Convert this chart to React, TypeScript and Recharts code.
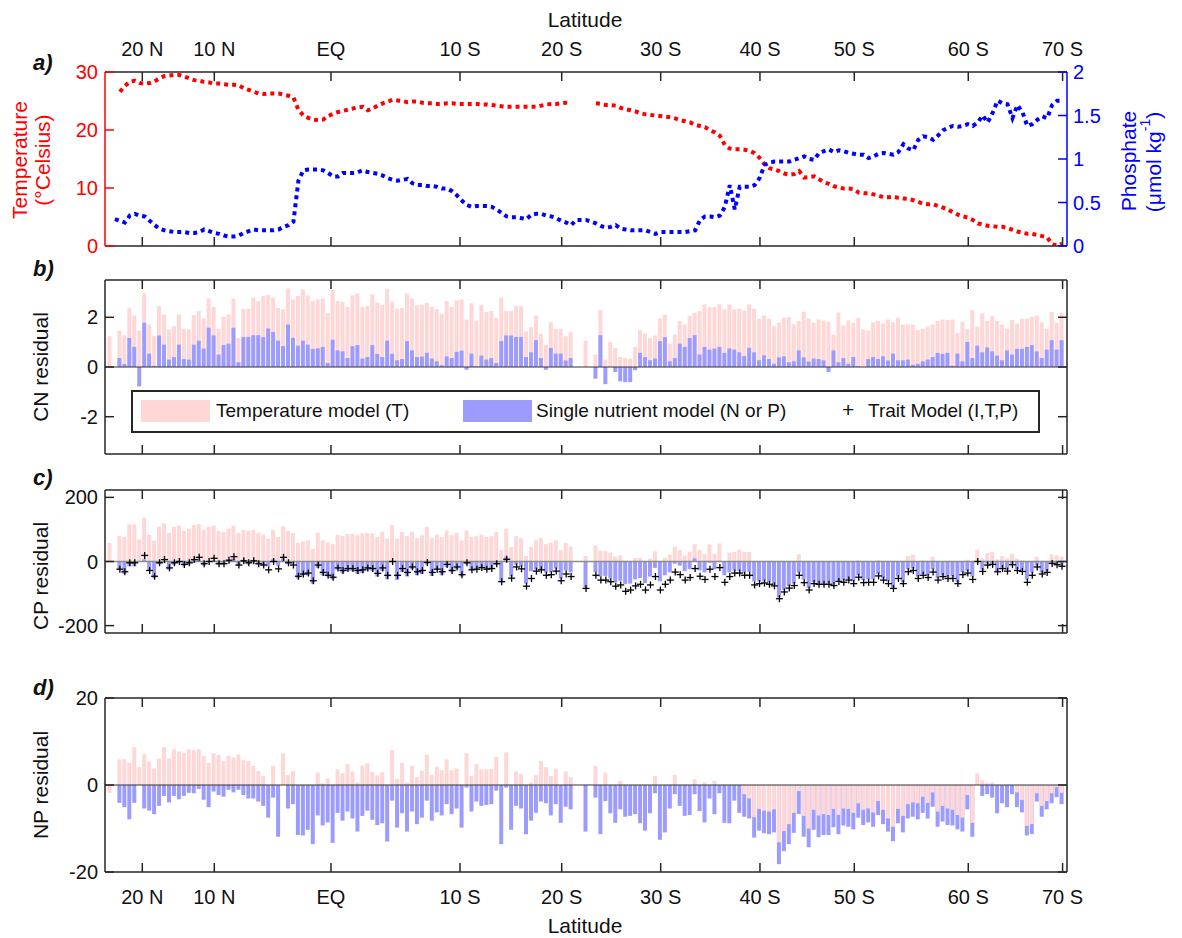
import React from 'react';
import { ComposedChart, Line, Bar, Scatter, XAxis, YAxis, ReferenceLine, Legend } from 'recharts';

const FONT = '"Liberation Sans", Arial, Helvetica, sans-serif';
const AXIS = '#262626';
const PINK = '#ffd7d7';
const BLUE = '#9c9cff';
const RED = '#ff0000';
const DEEP_BLUE = '#0000ff';

// x positions (station index) of the latitude ticks
const latTicks = [6.52, 21.04, 44.57, 70.59, 91.1, 111.06, 131.08, 150.1, 173.09, 192.11];
const latLabels = ['20 N', '10 N', 'EQ', '10 S', '20 S', '30 S', '40 S', '50 S', '60 S', '70 S'];

// panel a
const temperature = [
  null, null, 26.6, 27.6, 28.3, 28.5, 28.1, 28.0, 28.1, 28.4,
  28.9, 29.3, 29.4, 29.5, 29.5, 29.2, 28.9, 28.6, 28.5, 28.3,
  28.2, 28.0, 28.0, 27.9, 27.8, 27.8, 27.7, 27.2, 26.9, 26.6,
  26.3, 26.2, 26.3, 26.3, 26.3, 26.1, 25.9, 25.6, 23.5, 22.5,
  22.1, 21.8, 21.7, 21.8, 22.4, 22.8, 23.1, 23.3, 23.5, 23.7,
  23.9, 24.0, 23.4, 23.7, 24.2, 24.6, 24.9, 25.2, 25.1, 25.0,
  24.8, 24.9, 24.9, 24.7, 24.6, 24.6, 24.5, 24.5, 24.6, 24.6,
  24.5, 24.5, 24.5, 24.5, 24.5, 24.4, 24.4, 24.3, 24.2, 24.1,
  24.0, 24.0, 24.0, 24.0, 24.0, 24.0, 24.0, 24.2, 24.4, 24.5,
  24.5, 24.6, 24.7, 24.7, null, null, null, null, 24.6, 24.5,
  24.3, 24.3, 24.2, 23.8, 23.6, 23.4, 23.2, 22.9, 22.7, 22.6,
  22.5, 22.4, 22.3, 22.2, 22.0, 21.7, 21.5, 21.3, 20.9, 20.7,
  20.5, 19.9, 19.6, 19.0, 17.4, 16.8, 16.7, 16.7, 16.6, 16.4,
  16.0, 15.2, 14.1, 13.4, 13.2, 12.9, 12.5, 12.3, 12.4, 12.9,
  11.8, 11.9, 12.0, 11.5, 11.0, 10.7, 10.3, 10.1, 9.9, 9.9,
  9.8, 9.2, 9.1, 9.1, 8.9, 8.7, 8.4, 8.4, 8.5, 8.3,
  8.2, 8.1, 7.9, 7.6, 7.3, 7.2, 7.2, 6.9, 6.6, 6.3,
  5.8, 5.4, 5.1, 4.9, 4.5, 3.9, 3.7, 3.5, 3.4, 3.3,
  3.3, 3.1, 2.8, 2.5, 2.3, 2.1, 2.1, 1.9, 1.7, 1.5,
  0.3, 0.1, 0.4,
];

const phosphate = [
  null, 0.31, 0.29, 0.27, 0.35, 0.37, 0.35, 0.34, 0.29, 0.24,
  0.20, 0.18, 0.17, 0.16, 0.16, 0.16, 0.15, 0.15, 0.16, 0.19,
  0.17, 0.15, 0.14, 0.12, 0.11, 0.11, 0.12, 0.15, 0.17, 0.19,
  0.18, 0.18, 0.18, 0.18, 0.19, 0.22, 0.24, 0.28, 0.75, 0.87,
  0.88, 0.88, 0.88, 0.87, 0.84, 0.80, 0.80, 0.84, 0.84, 0.84,
  0.85, 0.87, 0.85, 0.84, 0.83, 0.81, 0.78, 0.76, 0.75, 0.76,
  0.77, 0.72, 0.70, 0.70, 0.69, 0.69, 0.68, 0.66, 0.66, 0.63,
  0.58, 0.52, 0.47, 0.45, 0.46, 0.46, 0.46, 0.45, 0.42, 0.38,
  0.34, 0.33, 0.33, 0.32, 0.31, 0.36, 0.37, 0.37, 0.35, 0.34,
  0.32, 0.29, 0.27, 0.24, 0.30, 0.30, 0.30, 0.28, 0.26, 0.23,
  0.21, 0.22, 0.24, 0.20, 0.19, 0.18, 0.18, 0.18, 0.18, 0.16,
  0.14, 0.16, 0.16, 0.16, 0.16, 0.16, 0.16, 0.17, 0.18, 0.30,
  0.34, 0.34, 0.33, 0.35, 0.45, 0.70, 0.42, 0.68, 0.68, 0.68,
  0.70, 0.78, 0.93, 0.96, 0.97, 0.97, 0.97, 0.97, 0.99, 1.01,
  1.03, 1.00, 0.99, 1.07, 1.09, 1.11, 1.08, 1.10, 1.09, 1.07,
  1.06, 1.05, 1.05, 1.01, 1.03, 1.06, 1.07, 1.06, 1.05, 1.08,
  1.17, 1.12, 1.10, 1.22, 1.26, 1.25, 1.22, 1.27, 1.33, 1.36,
  1.38, 1.37, 1.38, 1.40, 1.38, 1.42, 1.50, 1.42, 1.53, 1.67,
  1.64, 1.63, 1.47, 1.62, 1.54, 1.38, 1.40, 1.45, 1.49, 1.47,
  1.62, 1.67, 1.67,
];

// panel b: CN residuals
const cnTemp = [
  1.24, null, 1.47, 1.28, 2.36, 2.07, 1.47, 2.96, 1.71, 1.24,
  2.45, 2.11, 1.51, 1.64, 2.11, 1.54, 1.51, 2.09, 2.25, 1.95,
  2.76, 2.42, 1.54, 2.02, 2.11, 2.75, 1.17, 2.34, 2.34, 2.79,
  2.65, 2.86, 2.90, 2.79, 2.38, 2.32, 3.16, 2.72, 2.86, 3.12,
  2.88, 2.65, 2.72, 2.75, 2.18, 3.10, 2.65, 2.63, 2.42, 2.88,
  2.96, 2.41, 2.45, 2.92, 2.59, 2.49, 3.15, 2.63, 2.34, 2.38,
  2.96, 2.75, 2.49, 2.50, 2.58, 2.42, 2.32, 2.14, 2.65, 2.42,
  2.69, 2.72, 1.91, 2.56, 1.87, 2.49, 2.21, 2.25, 1.98, 2.79,
  2.25, 2.25, 2.45, 2.45, 1.44, 1.60, 2.07, 1.33, 0.90, 1.80,
  1.54, 1.54, 1.24, 1.40, null, null, 1.06, null, 0.50, 2.29,
  0.30, 1.01, 0.77, 0.40, 0.36, 0.34, 0.81, 1.48, 1.35, 1.17,
  1.27, 1.95, 2.11, 0.94, 1.31, 1.85, 1.71, 2.05, 2.18, 2.25,
  2.52, 2.41, 2.41, 2.52, 2.32, 2.52, 2.32, 2.35, 2.27, 2.52,
  2.34, 1.94, 2.07, 1.94, 1.64, 1.78, 1.98, 2.01, 1.71, 1.85,
  2.22, 1.95, 1.78, 1.91, 1.87, 1.82, 1.31, 2.18, 1.67, 1.87,
  1.78, 1.98, 1.51, 1.47, 1.80, 1.85, 1.75, 1.91, 1.80, 1.98,
  1.71, 1.71, 1.71, 1.48, 1.54, 1.62, 1.71, 1.85, 1.91, 1.89,
  1.91, 1.37, 1.82, 1.54, 2.29, 1.62, 2.15, 1.85, 2.05, 1.85,
  1.71, 1.54, 1.89, 1.75, 1.94, 1.94, 2.02, 2.07, 1.80, 1.54,
  2.21, 1.78, 2.18,
];

const cnNutrient = [
  0, null, 0.36, 0.12, 1.17, 0.81, -0.78, 1.78, 0.54, 0.05,
  1.27, 0.90, 0.30, 0.40, 0.90, 0.32, 0.30, 0.90, 1.06, 0.74,
  1.58, 1.27, 0.50, 0.88, 0.94, 1.58, 0.19, 1.21, 1.21, 1.28,
  1.28, 1.20, 1.55, 1.41, 1.06, 0.84, 1.71, 1.17, 0.86, 1.06,
  0.90, 0.73, 0.75, 0.81, 0.16, 1.10, 0.67, 0.63, 0.36, 0.84,
  0.88, 0.34, 0.40, 0.88, 0.53, 0.40, 1.06, 0.53, 0.27, 0.32,
  1.04, 0.67, 0.40, 0.42, 0.57, 0.34, 0.23, 0.07, 0.43, 0.36,
  0.61, 0.66, -0.11, 0.54, 0.03, 0.46, 0.30, 0.36, 0.16, 1.04,
  1.27, 1.27, 1.21, 1.21, 0.40, 0.59, 1.08, 0.36, -0.11, 0.77,
  0.54, 0.54, 0.26, 0.36, null, null, 0, null, -0.47, 1.28,
  -0.69, 0, -0.20, -0.58, -0.61, -0.61, -0.13, 0.57, 0.40, 0.27,
  0.34, 1.04, 1.20, 0.23, 0.36, 0.94, 0.81, 1.17, 1.28, 0.50,
  0.81, 0.70, 0.74, 0.81, 0.57, 0.75, 0.70, 0.59, 0.44, 0.77,
  0.59, 0.27, 0.47, 0.32, 0.13, 0.39, 0.43, 0.19, 0.23, 0.67,
  0.39, 0.22, 0.34, 0.32, 0.27, -0.20, 0.67, 0.19, 0.36, 0.13,
  0.40, 0.03, 0, 0.32, 0.40, 0.32, 0.43, 0.26, 0.54, 0.27,
  0.27, 0.30, 0.09, 0.13, 0.23, 0.30, 0.40, 0.57, 0.53, 0.57,
  0.05, 0.54, 0.23, 1.01, 0.36, 0.86, 0.59, 0.79, 0.63, 0.46,
  0.27, 0.67, 0.50, 0.73, 0.73, 0.81, 0.88, 0.63, 0.36, 0.70,
  1.08, 0.70, 1.08,
];

// panel c: CP residuals
const cpTemp = [
  58, null, 80, 77, 116, 116, 69, 136, 83, 65,
  108, 119, 89, 108, 112, 96, 102, 114, 116, 99,
  108, 112, 95, 93, 103, 112, 89, 99, 96, 99,
  89, 84, 71, 99, 76, 110, 95, 89, 58, 63,
  66, 40, 89, 66, 60, 54, 83, 80, 86, 86,
  82, 88, 89, 88, 77, 93, 71, 114, 71, 92,
  79, 93, 73, 82, 108, 73, 84, 76, 97, 82,
  89, 65, 97, 77, 79, 84, 77, 79, 92, 36,
  102, 45, 79, 73, 17, 45, 66, 73, 54, 59,
  66, 36, 58, 47, null, null, 17, null, 50, 34,
  33, 28, 15, 19, 2, 0, 11, 11, 0, 9,
  32, 0, 11, 22, 47, 36, 19, 30, 54, 36,
  23, 53, 24, 56, 0, 28, 30, 37, 30, 30,
  0, 0, 0, 0, 0, 0, 0, 0, 0, 23,
  0, 0, 0, 0, 0, 0, 0, 0, 0, 0,
  0, 3, 0, 0, 0, 4, 0, 0, 0, 0,
  0, 17, 22, 0, 4, 0, 15, 0, 0, 0,
  0, 0, 0, 6, 0, 36, 9, 26, 30, 7,
  17, 10, 24, 9, 4, 0, 0, 15, 0, 0,
  22, 19, 15,
];

const cpNutrient = [
  0, null, -26, -39, -15, -15, 0, 7, -28, -52,
  -9, -2, -26, -10, -4, -15, -10, 4, 7, -13,
  0, 4, -9, -7, 4, 9, -13, 6, -9, 3,
  -9, -13, -15, 7, -13, 10, -7, -7, -53, -43,
  -43, -69, -20, -43, -47, -56, -26, -37, -30, -30,
  -39, -36, -28, -30, -47, -30, -56, -2, -58, -33,
  -47, -24, -43, -39, -9, -45, -24, -43, -17, -34,
  -24, -47, -9, -24, -24, -19, -24, -22, -9, -62,
  15, -47, -10, -15, -69, -30, -24, -24, -34, -34,
  -22, -53, -28, -34, null, null, -82, null, -33, -47,
  -45, -53, -65, -60, -70, -69, -56, -52, -67, -47,
  -20, -62, -43, -34, -7, -13, -30, -24, 10, -28,
  -34, -4, -24, 2, -43, -34, -28, -30, -34, -33,
  -62, -62, -62, -65, -73, -112, -88, -77, -69, -34,
  -56, -82, -65, -67, -67, -67, -69, -60, -58, -56,
  -62, -43, -58, -56, -56, -39, -53, -62, -82, -47,
  -65, -24, -22, -47, -39, -43, -24, -52, -43, -47,
  -47, -65, -34, -30, -47, 0, -26, -7, -7, -30,
  -19, -26, -7, -24, -26, -56, -34, -13, -34, -30,
  -4, -9, -13,
];

const cpTrait = [
  null, null, -24, -32, -4, -4, null, 19, -28, -46,
  -4, 6, -20, -4, 0, -9, -4, 6, 13, -7,
  0, 10, -7, -7, 4, 15, -11, 2, -4, 2,
  -7, -11, -26, 0, -23, 13, -4, -11, -46, -39,
  -36, -60, -11, -34, -43, -49, -20, -28, -22, -22,
  -28, -26, -20, -22, -37, -20, -43, 0, -43, -22,
  -34, -17, -32, -28, -3, -34, -24, -32, -9, -28,
  -17, -41, -4, -26, -24, -19, -24, -22, -7, -63,
  7, -52, -17, -23, -77, -53, -30, -26, -43, -41,
  -30, -60, -39, -47, null, null, -84, null, -43, -58,
  -58, -63, -77, -73, -93, -89, -76, -71, -89, -73,
  -47, -89, -71, -58, -33, -41, -58, -50, -22, -46,
  -56, -24, -47, -19, -65, -47, -36, -36, -43, -43,
  -73, -69, -67, -71, -76, -116, -95, -83, -75, -43,
  -66, -89, -69, -71, -71, -71, -75, -62, -65, -58,
  -69, -49, -66, -65, -65, -45, -58, -69, -84, -53,
  -69, -32, -28, -53, -43, -50, -33, -58, -47, -53,
  -53, -69, -41, -36, -56, 0, -31, -11, -9, -32,
  -22, -30, -10, -28, -31, -65, -43, -17, -39, -34,
  -6, -10, -15,
];

// panel d: NP residuals
const npTemp = [
  -1.8, null, 5.9, 5.9, 5.1, 8.7, 4.1, 7.1, 5.4, 3.8,
  6.1, 8.7, 6.1, 8.2, 7.7, 7.3, 8.2, 8.0, 8.2, 6.7,
  5.1, 7.3, 6.9, 5.5, 6.7, 6.3, 7.0, 5.7, 5.5, 4.4,
  3.2, 2.1, 0, 4.4, 0, 7.3, 2.3, 3.2, 0, 0,
  0, 0, 2.9, 0.4, 1.5, 0, 3.6, 2.7, 4.8, 3.1,
  0.6, 4.5, 5.0, 3.0, 2.2, 2.9, 0, 8.0, 1.4, 5.1,
  0.6, 4.4, 1.8, 3.3, 6.9, 2.3, 4.2, 3.4, 5.9, 3.4,
  3.8, 0, 7.3, 2.1, 4.8, 3.6, 3.6, 3.7, 6.5, 0,
  7.5, 0, 3.1, 2.5, 0, 0.6, 2.3, 5.5, 4.1, 2.1,
  3.8, 0, 3.1, 1.8, null, null, 0, null, 4.4, 0,
  2.9, 0, 0, 0.9, 0, 0, 0, 0, 0, 0,
  2.1, 0, 0, 0, 2.3, 0, 0, 0, 1.3, 0,
  0.6, 0, 1.0, 0, 0, 0, 0, 0, -2.1, -3.1,
  -7.4, -5.5, -5.9, -6.1, -5.6, -13.2, -10.6, -9.0, -6.4, -1.4,
  -7.1, -10.0, -5.7, -7.0, -6.7, -6.9, -5.5, -6.9, -5.4, -5.5,
  -6.4, -4.2, -5.7, -5.4, -6.3, -3.7, -5.7, -7.7, -9.6, -5.5,
  -7.1, -4.4, -4.0, -4.2, -2.7, -4.1, -1.7, -6.1, -4.8, -5.4,
  -5.7, -6.9, -7.5, -2.3, -8.7, 2.7, 1.1, 0.5, 0.6, 0,
  0, 0, 0, -1.7, -3.4, -9.4, -9.0, -1.9, -4.8, -3.7,
  -1.9, -0.5, -1.8,
];

const npNutrient = [
  0, null, -4.1, -5.1, -7.9, -4.1, 0, -5.4, -5.9, -6.7,
  -4.8, -2.5, -4.0, -2.5, -3.3, -2.5, -1.8, -1.9, -0.9, -3.4,
  -5.1, -1.5, -2.3, -2.7, -1.1, -1.7, -1.1, -2.3, -3.1, -3.1,
  -3.8, -4.8, -7.5, -2.9, -11.9, 0, -5.4, -4.4, -11.5, -11.6,
  -10.3, -13.6, -7.0, -9.3, -8.6, -13.3, -6.4, -8.2, -6.1, -7.7,
  -10.7, -7.1, -5.9, -8.0, -9.2, -8.8, -13.0, -3.6, -9.8, -6.5,
  -10.7, -6.1, -9.0, -7.5, -3.6, -8.2, -6.3, -7.0, -4.4, -6.7,
  -5.4, -9.8, -0.6, -6.1, -3.8, -4.8, -4.6, -4.4, -1.3, -13.6,
  -0.6, -10.3, -4.8, -5.4, -11.3, -8.2, -6.4, -3.8, -4.2, -7.0,
  -4.4, -8.7, -5.0, -5.6, null, null, -10.7, null, -2.9, -11.3,
  -3.7, -6.5, -8.7, -5.6, -7.3, -7.1, -6.7, -8.8, -10.5, -6.5,
  -1.9, -12.6, -10.9, -5.4, -2.1, -4.8, -7.1, -6.9, -2.1, -6.0,
  -8.6, -3.1, -6.7, -1.9, -8.7, -8.8, -3.6, -6.4, -7.3, -7.7,
  -12.1, -10.5, -11.1, -11.3, -10.9, -18.2, -15.2, -13.6, -11.0, -6.7,
  -11.9, -14.3, -10.3, -12.0, -11.5, -11.5, -9.7, -11.3, -9.3, -9.6,
  -10.2, -7.5, -9.2, -8.6, -9.6, -6.9, -9.0, -10.7, -12.9, -8.8,
  -10.9, -7.7, -7.3, -7.9, -6.4, -7.7, -5.0, -9.6, -8.4, -9.2,
  -9.3, -10.2, -10.7, -5.6, -11.9, 0, -2.5, -2.1, -2.9, -6.5,
  -4.2, -5.1, -2.1, -5.1, -6.3, -11.6, -11.3, -3.8, -7.3, -5.6,
  -4.2, -2.8, -4.4,
];

const rows = temperature.map((t, i) => ({
  i,
  temp: t,
  phos: phosphate[i],
  cnT: cnTemp[i],
  cnN: cnNutrient[i],
  cpT: cpTemp[i],
  cpN: cpNutrient[i],
  cpX: cpTrait[i],
  npT: npTemp[i],
  npN: npNutrient[i],
}));
const traitRows = rows.filter((r) => r.cpX !== null);

const W = 1182;
const PLOT_L = 105;
const PLOT_R = 1067;
const TL = 9;
const X_DOMAIN: [number, number] = [-1, 193];

const xTick = (side: 'top' | 'bottom', labels: boolean) => (p: any) => {
  const { x, y, index } = p;
  const dir = side === 'top' ? 1 : -1;
  return (
    <g>
      <line x1={x} y1={y} x2={x} y2={y + dir * TL} stroke={AXIS} strokeWidth={1.5} />
      {labels && (
        <text x={x} y={side === 'top' ? y - 16 : y + 32} textAnchor="middle" fontSize={20} fill="#111" fontFamily={FONT}>
          {latLabels[index]}
        </text>
      )}
    </g>
  );
};

const yTick = (side: 'left' | 'right', color: string, labels: boolean, textColor?: string) => (p: any) => {
  const { x, y, payload } = p;
  const dir = side === 'left' ? 1 : -1;
  return (
    <g>
      <line x1={x} y1={y} x2={x + dir * TL} y2={y} stroke={color} strokeWidth={1.5} />
      {labels && (
        <text
          x={side === 'left' ? x - 7 : x + 6}
          y={y}
          dy={7}
          textAnchor={side === 'left' ? 'end' : 'start'}
          fontSize={20}
          fill={textColor || color}
          fontFamily={FONT}
        >
          {payload.value}
        </text>
      )}
    </g>
  );
};

const plus = (p: any) => {
  const { cx, cy } = p;
  if (cx == null || cy == null || isNaN(cx) || isNaN(cy)) return <g />;
  return (
    <g>
      <line x1={cx - 3.5} y1={cy} x2={cx + 3.5} y2={cy} stroke="#000" strokeWidth={1.3} />
      <line x1={cx} y1={cy - 3.5} x2={cx} y2={cy + 3.5} stroke="#000" strokeWidth={1.3} />
    </g>
  );
};

// axes have a 1px box (recharts skips axes of zero size); margins compensate
const xAxes = (topLabels: boolean, bottomLabels: boolean) => [
  <XAxis
    key="xb"
    xAxisId="b"
    dataKey="i"
    type="number"
    domain={X_DOMAIN}
    allowDataOverflow
    ticks={latTicks}
    interval={0}
    height={1}
    tickSize={0}
    tickMargin={0}
    tickLine={false}
    axisLine={{ stroke: AXIS, strokeWidth: 1.5 }}
    tick={xTick('bottom', bottomLabels)}
  />,
  <XAxis
    key="xt"
    xAxisId="t"
    orientation="top"
    dataKey="i"
    type="number"
    domain={X_DOMAIN}
    allowDataOverflow
    ticks={latTicks}
    interval={0}
    height={1}
    tickSize={0}
    tickMargin={0}
    tickLine={false}
    axisLine={{ stroke: AXIS, strokeWidth: 1.5 }}
    tick={xTick('top', topLabels)}
  />,
];

const yAxes = (domain: [number, number], ticks: number[]) => [
  <YAxis
    key="yl"
    yAxisId="l"
    type="number"
    domain={domain}
    allowDataOverflow
    ticks={ticks}
    interval={0}
    width={1}
    tickSize={0}
    tickMargin={0}
    tickLine={false}
    axisLine={{ stroke: AXIS, strokeWidth: 1.5 }}
    tick={yTick('left', AXIS, true, '#111')}
  />,
  <YAxis
    key="yr"
    yAxisId="r"
    orientation="right"
    type="number"
    domain={domain}
    allowDataOverflow
    ticks={ticks}
    interval={0}
    width={1}
    tickSize={0}
    tickMargin={0}
    tickLine={false}
    axisLine={{ stroke: AXIS, strokeWidth: 1.5 }}
    tick={yTick('right', AXIS, false)}
  />,
];

const LegendBox = () => (
  <div
    style={{
      boxSizing: 'border-box',
      width: 909,
      height: 43,
      border: '2px solid #262626',
      background: '#fff',
      position: 'relative',
      fontFamily: FONT,
      fontSize: 19,
      color: '#111',
    }}
  >
    <div style={{ position: 'absolute', left: 8, top: 8, width: 69, height: 22, background: PINK }} />
    <div style={{ position: 'absolute', left: 83, top: 8, lineHeight: '22px' }}>Temperature model (T)</div>
    <div style={{ position: 'absolute', left: 330, top: 8, width: 69, height: 22, background: BLUE }} />
    <div style={{ position: 'absolute', left: 403, top: 8, lineHeight: '22px' }}>Single nutrient model (N or P)</div>
    <div style={{ position: 'absolute', left: 709, top: 7, lineHeight: '22px', fontSize: 21 }}>+</div>
    <div style={{ position: 'absolute', left: 735, top: 8, lineHeight: '22px' }}>Trait Model (I,T,P)</div>
  </div>
);

// plot area spans top..(chart height - bottom); axis boxes take 1px each side
const margin = (top: number, bottom: number) => ({ top: top - 1, bottom: bottom - 1, left: PLOT_L - 1, right: W - PLOT_R - 1 });

export default function App() {
  return (
    <div style={{ position: 'absolute', left: 0, top: 0, width: W, height: 938, background: '#fff', fontFamily: FONT }}>
      {/* a) temperature and phosphate */}
      <div style={{ position: 'absolute', left: 0, top: 0 }}>
        <ComposedChart width={W} height={262} data={rows} margin={margin(72, 16)}>
          {xAxes(true, false)}
          <YAxis
            yAxisId="temp"
            type="number"
            domain={[0, 30]}
            allowDataOverflow
            ticks={[0, 10, 20, 30]}
            interval={0}
            width={1}
            tickSize={0}
            tickMargin={0}
            tickLine={false}
            axisLine={{ stroke: RED, strokeWidth: 1.5 }}
            tick={yTick('left', RED, true)}
          />
          <YAxis
            yAxisId="phos"
            orientation="right"
            type="number"
            domain={[0, 2]}
            allowDataOverflow
            ticks={[0, 0.5, 1, 1.5, 2]}
            interval={0}
            width={1}
            tickSize={0}
            tickMargin={0}
            tickLine={false}
            axisLine={{ stroke: DEEP_BLUE, strokeWidth: 1.5 }}
            tick={yTick('right', DEEP_BLUE, true)}
          />
          <Line
            xAxisId="b"
            yAxisId="temp"
            type="linear"
            dataKey="temp"
            stroke={RED}
            strokeWidth={4}
            strokeDasharray="4 4"
            dot={false}
            isAnimationActive={false}
          />
          <Line
            xAxisId="b"
            yAxisId="phos"
            type="linear"
            dataKey="phos"
            stroke={DEEP_BLUE}
            strokeWidth={4}
            strokeDasharray="4 4"
            dot={false}
            isAnimationActive={false}
          />
        </ComposedChart>
      </div>

      {/* b) CN residual */}
      <div style={{ position: 'absolute', left: 0, top: 262 }}>
        <ComposedChart width={W} height={208} data={rows} margin={margin(18, 16)} barGap={-4}>
          {xAxes(false, false)}
          {yAxes([-3.5, 3.5], [-2, 0, 2])}
          <ReferenceLine xAxisId="b" yAxisId="l" y={0} stroke="#333" strokeWidth={1} />
          <Bar xAxisId="b" yAxisId="l" dataKey="cnT" fill={PINK} barSize={4} isAnimationActive={false} />
          <Bar xAxisId="b" yAxisId="l" dataKey="cnN" fill={BLUE} barSize={4} isAnimationActive={false} />
          <Legend
            layout="horizontal"
            verticalAlign="middle"
            align="center"
            wrapperStyle={{ left: 131, top: 128, width: 909, height: 43 }}
            content={() => <LegendBox />}
          />
        </ComposedChart>
      </div>

      {/* c) CP residual */}
      <div style={{ position: 'absolute', left: 0, top: 470 }}>
        <ComposedChart width={W} height={210} data={rows} margin={margin(20, 47)} barGap={-4}>
          {xAxes(false, false)}
          {yAxes([-223, 223], [-200, 0, 200])}
          <Bar xAxisId="b" yAxisId="l" dataKey="cpT" fill={PINK} barSize={4} isAnimationActive={false} />
          <Bar xAxisId="b" yAxisId="l" dataKey="cpN" fill={BLUE} barSize={4} isAnimationActive={false} />
          <ReferenceLine xAxisId="b" yAxisId="l" y={0} stroke="#8c8c8c" strokeWidth={1.5} />
          <Scatter
            xAxisId="b"
            yAxisId="l"
            data={traitRows}
            dataKey="cpX"
            shape={plus}
            isAnimationActive={false}
          />
        </ComposedChart>
      </div>

      {/* d) NP residual */}
      <div style={{ position: 'absolute', left: 0, top: 680 }}>
        <ComposedChart width={W} height={258} data={rows} margin={margin(18, 66)} barGap={-4}>
          {xAxes(false, true)}
          {yAxes([-20, 20], [-20, 0, 20])}
          <ReferenceLine xAxisId="b" yAxisId="l" y={0} stroke="#333" strokeWidth={1} />
          <Bar xAxisId="b" yAxisId="l" dataKey="npN" fill={BLUE} barSize={4} isAnimationActive={false} />
          <Bar xAxisId="b" yAxisId="l" dataKey="npT" fill={PINK} barSize={4} isAnimationActive={false} />
        </ComposedChart>
      </div>

      {/* titles and panel letters */}
      <svg width={W} height={938} style={{ position: 'absolute', left: 0, top: 0, pointerEvents: 'none' }} fontFamily={FONT}>
        <text x={585} y={19} textAnchor="middle" dominantBaseline="central" fontSize={21} fill="#111">Latitude</text>
        <text x={585} y={925} textAnchor="middle" dominantBaseline="central" fontSize={21} fill="#111">Latitude</text>

        <text x={33} y={62} dominantBaseline="central" fontSize={22} fontWeight="bold" fontStyle="italic" fill="#111">a)</text>
        <text x={33} y={268} dominantBaseline="central" fontSize={22} fontWeight="bold" fontStyle="italic" fill="#111">b)</text>
        <text x={33} y={477} dominantBaseline="central" fontSize={22} fontWeight="bold" fontStyle="italic" fill="#111">c)</text>
        <text x={33} y={687} dominantBaseline="central" fontSize={22} fontWeight="bold" fontStyle="italic" fill="#111">d)</text>

        <text transform="translate(19,160) rotate(-90)" textAnchor="middle" dominantBaseline="central" fontSize={21} fill={RED}>Temperature</text>
        <text transform="translate(42,160) rotate(-90)" textAnchor="middle" dominantBaseline="central" fontSize={21} fill={RED}>(°Celsius)</text>

        <text transform="translate(1128,161) rotate(-90)" textAnchor="middle" dominantBaseline="central" fontSize={21} fill={DEEP_BLUE}>Phosphate</text>
        <text transform="translate(1153,162) rotate(-90)" textAnchor="middle" dominantBaseline="central" fontSize={21} fill={DEEP_BLUE}>
          (μmol kg<tspan dy={-8} fontSize={14}>-1</tspan><tspan dy={8}>)</tspan>
        </text>

        <text transform="translate(40,367) rotate(-90)" textAnchor="middle" dominantBaseline="central" fontSize={21} fill="#111">CN residual</text>
        <text transform="translate(40,576) rotate(-90)" textAnchor="middle" dominantBaseline="central" fontSize={21} fill="#111">CP residual</text>
        <text transform="translate(40,785) rotate(-90)" textAnchor="middle" dominantBaseline="central" fontSize={21} fill="#111">NP residual</text>
      </svg>
    </div>
  );
}
